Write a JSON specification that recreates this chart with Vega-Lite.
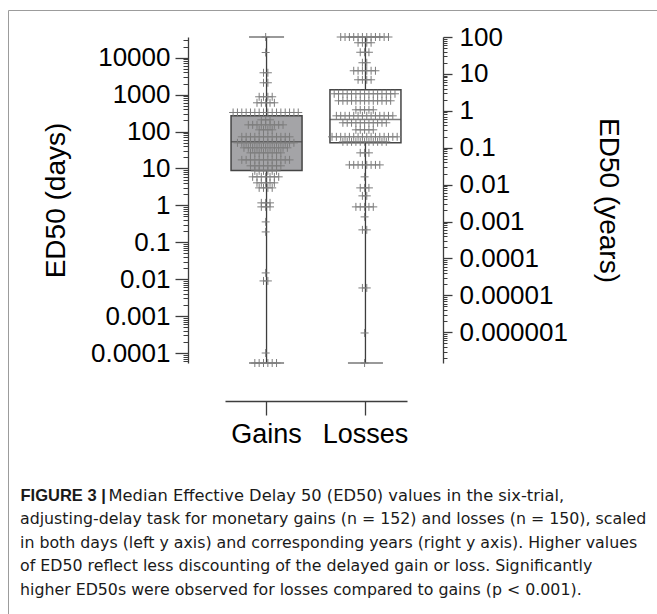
{
  "$schema": "https://vega.github.io/schema/vega-lite/v6.json",
  "usermeta": {"embedOptions": {"actions": false}},
  "width": 649,
  "height": 604,
  "autosize": "none",
  "padding": {"left": 8, "top": 10, "right": 0, "bottom": 0},
  "background": "white",
  "config": {
    "view": {"stroke": "#9c9c9c", "strokeWidth": 1},
    "font": "Liberation Sans",
    "axis": {"labelFont": "Liberation Sans", "titleFont": "Liberation Sans", "labelColor": "#111111", "titleColor": "#111111", "titleFontWeight": "normal", "domainColor": "#3d3d3d", "tickColor": "#3d3d3d", "grid": false, "labelOverlap": false}
  },
  "title": {
    "text": [
      "adjusting-delay task for monetary gains (n = 152) and losses (n = 150), scaled",
      "in both days (left y axis) and corresponding years (right y axis). Higher values",
      "of ED50 reflect less discounting of the delayed gain or loss. Significantly",
      "higher ED50s were observed for losses compared to gains (p < 0.001)."
    ],
    "orient": "bottom", "anchor": "start", "frame": "group", "offset": 0,
    "font": "DejaVu Sans", "fontSize": 15.8, "fontWeight": "normal", "color": "#1a1a1a", "lineHeight": 23.7,
    "dx": 12, "dy": -102
  },
  "datasets": {
    "summary": [
      {"group": "Gains", "min": 0.0000536, "q1": 8.78, "median": 52.7, "q3": 267.4, "max": 36525},
      {"group": "Losses", "min": 0.0000536, "q1": 49.5, "median": 212.2, "q3": 1356, "max": 36525}
    ],
    "yearTicks": [
      {"years": 0.000001}, {"years": 0.00001}, {"years": 0.0001}, {"years": 0.001}, {"years": 0.01},
      {"years": 0.1}, {"years": 1}, {"years": 10}, {"years": 100}
    ],
    "points": [
      {"group": "Gains", "days": 36525},
      {"group": "Gains", "days": 13900},
      {"group": "Gains", "days": 3920}, {"group": "Gains", "days": 3920},
      {"group": "Gains", "days": 2100}, {"group": "Gains", "days": 2100},
      {"group": "Gains", "days": 876}, {"group": "Gains", "days": 876}, {"group": "Gains", "days": 876}, {"group": "Gains", "days": 876},
      {"group": "Gains", "days": 602}, {"group": "Gains", "days": 602}, {"group": "Gains", "days": 602}, {"group": "Gains", "days": 602}, {"group": "Gains", "days": 602},
      {"group": "Gains", "days": 329}, {"group": "Gains", "days": 329}, {"group": "Gains", "days": 329}, {"group": "Gains", "days": 329},
      {"group": "Gains", "days": 329}, {"group": "Gains", "days": 329}, {"group": "Gains", "days": 329}, {"group": "Gains", "days": 329},
      {"group": "Gains", "days": 329}, {"group": "Gains", "days": 329}, {"group": "Gains", "days": 329}, {"group": "Gains", "days": 329},
      {"group": "Gains", "days": 329}, {"group": "Gains", "days": 329}, {"group": "Gains", "days": 329}, {"group": "Gains", "days": 329},
      {"group": "Gains", "days": 208}, {"group": "Gains", "days": 208}, {"group": "Gains", "days": 208},
      {"group": "Gains", "days": 152}, {"group": "Gains", "days": 152}, {"group": "Gains", "days": 152}, {"group": "Gains", "days": 152}, {"group": "Gains", "days": 152},
      {"group": "Gains", "days": 152}, {"group": "Gains", "days": 152}, {"group": "Gains", "days": 152}, {"group": "Gains", "days": 152},
      {"group": "Gains", "days": 111.5}, {"group": "Gains", "days": 111.5}, {"group": "Gains", "days": 111.5}, {"group": "Gains", "days": 111.5},
      {"group": "Gains", "days": 72}, {"group": "Gains", "days": 72}, {"group": "Gains", "days": 72}, {"group": "Gains", "days": 72},
      {"group": "Gains", "days": 72}, {"group": "Gains", "days": 72}, {"group": "Gains", "days": 72}, {"group": "Gains", "days": 72},
      {"group": "Gains", "days": 72}, {"group": "Gains", "days": 72}, {"group": "Gains", "days": 72}, {"group": "Gains", "days": 72},
      {"group": "Gains", "days": 49.5}, {"group": "Gains", "days": 49.5}, {"group": "Gains", "days": 49.5}, {"group": "Gains", "days": 49.5},
      {"group": "Gains", "days": 49.5}, {"group": "Gains", "days": 49.5}, {"group": "Gains", "days": 49.5}, {"group": "Gains", "days": 49.5},
      {"group": "Gains", "days": 49.5}, {"group": "Gains", "days": 49.5}, {"group": "Gains", "days": 49.5}, {"group": "Gains", "days": 49.5},
      {"group": "Gains", "days": 49.5}, {"group": "Gains", "days": 49.5},
      {"group": "Gains", "days": 36.3}, {"group": "Gains", "days": 36.3}, {"group": "Gains", "days": 36.3}, {"group": "Gains", "days": 36.3},
      {"group": "Gains", "days": 36.3}, {"group": "Gains", "days": 36.3}, {"group": "Gains", "days": 36.3}, {"group": "Gains", "days": 36.3},
      {"group": "Gains", "days": 36.3}, {"group": "Gains", "days": 36.3}, {"group": "Gains", "days": 36.3},
      {"group": "Gains", "days": 26.5}, {"group": "Gains", "days": 26.5}, {"group": "Gains", "days": 26.5}, {"group": "Gains", "days": 26.5},
      {"group": "Gains", "days": 26.5}, {"group": "Gains", "days": 26.5}, {"group": "Gains", "days": 26.5}, {"group": "Gains", "days": 26.5},
      {"group": "Gains", "days": 17.1}, {"group": "Gains", "days": 17.1}, {"group": "Gains", "days": 17.1}, {"group": "Gains", "days": 17.1},
      {"group": "Gains", "days": 17.1}, {"group": "Gains", "days": 17.1}, {"group": "Gains", "days": 17.1}, {"group": "Gains", "days": 17.1},
      {"group": "Gains", "days": 17.1}, {"group": "Gains", "days": 17.1}, {"group": "Gains", "days": 17.1}, {"group": "Gains", "days": 17.1},
      {"group": "Gains", "days": 11.8}, {"group": "Gains", "days": 11.8}, {"group": "Gains", "days": 11.8}, {"group": "Gains", "days": 11.8},
      {"group": "Gains", "days": 11.8}, {"group": "Gains", "days": 11.8}, {"group": "Gains", "days": 11.8}, {"group": "Gains", "days": 11.8},
      {"group": "Gains", "days": 8.62}, {"group": "Gains", "days": 8.62}, {"group": "Gains", "days": 8.62}, {"group": "Gains", "days": 8.62},
      {"group": "Gains", "days": 8.62}, {"group": "Gains", "days": 8.62},
      {"group": "Gains", "days": 5.93}, {"group": "Gains", "days": 5.93}, {"group": "Gains", "days": 5.93}, {"group": "Gains", "days": 5.93},
      {"group": "Gains", "days": 5.93}, {"group": "Gains", "days": 5.93}, {"group": "Gains", "days": 5.93},
      {"group": "Gains", "days": 4.08}, {"group": "Gains", "days": 4.08}, {"group": "Gains", "days": 4.08}, {"group": "Gains", "days": 4.08}, {"group": "Gains", "days": 4.08},
      {"group": "Gains", "days": 2.98}, {"group": "Gains", "days": 2.98}, {"group": "Gains", "days": 2.98}, {"group": "Gains", "days": 2.98},
      {"group": "Gains", "days": 1.17}, {"group": "Gains", "days": 1.17}, {"group": "Gains", "days": 1.17},
      {"group": "Gains", "days": 0.911}, {"group": "Gains", "days": 0.911}, {"group": "Gains", "days": 0.911},
      {"group": "Gains", "days": 0.357},
      {"group": "Gains", "days": 0.191},
      {"group": "Gains", "days": 0.0148},
      {"group": "Gains", "days": 0.00897}, {"group": "Gains", "days": 0.00897},
      {"group": "Gains", "days": 0.0001},
      {"group": "Gains", "days": 0.0000536}, {"group": "Gains", "days": 0.0000536}, {"group": "Gains", "days": 0.0000536},
      {"group": "Gains", "days": 0.0000536}, {"group": "Gains", "days": 0.0000536}, {"group": "Gains", "days": 0.0000536},
      {"group": "Losses", "days": 36525}, {"group": "Losses", "days": 36525}, {"group": "Losses", "days": 36525}, {"group": "Losses", "days": 36525},
      {"group": "Losses", "days": 36525}, {"group": "Losses", "days": 36525}, {"group": "Losses", "days": 36525}, {"group": "Losses", "days": 36525},
      {"group": "Losses", "days": 36525}, {"group": "Losses", "days": 36525}, {"group": "Losses", "days": 36525}, {"group": "Losses", "days": 36525},
      {"group": "Losses", "days": 25500}, {"group": "Losses", "days": 25500}, {"group": "Losses", "days": 25500}, {"group": "Losses", "days": 25500},
      {"group": "Losses", "days": 14100}, {"group": "Losses", "days": 14100}, {"group": "Losses", "days": 14100},
      {"group": "Losses", "days": 7320}, {"group": "Losses", "days": 7320},
      {"group": "Losses", "days": 4440}, {"group": "Losses", "days": 4440}, {"group": "Losses", "days": 4440}, {"group": "Losses", "days": 4440},
      {"group": "Losses", "days": 4440}, {"group": "Losses", "days": 4440},
      {"group": "Losses", "days": 2530}, {"group": "Losses", "days": 2530}, {"group": "Losses", "days": 2530}, {"group": "Losses", "days": 2530},
      {"group": "Losses", "days": 1056}, {"group": "Losses", "days": 1056}, {"group": "Losses", "days": 1056}, {"group": "Losses", "days": 1056},
      {"group": "Losses", "days": 1056}, {"group": "Losses", "days": 1056}, {"group": "Losses", "days": 1056}, {"group": "Losses", "days": 1056},
      {"group": "Losses", "days": 1056}, {"group": "Losses", "days": 1056}, {"group": "Losses", "days": 1056}, {"group": "Losses", "days": 1056},
      {"group": "Losses", "days": 1056}, {"group": "Losses", "days": 1056}, {"group": "Losses", "days": 1056},
      {"group": "Losses", "days": 682}, {"group": "Losses", "days": 682}, {"group": "Losses", "days": 682}, {"group": "Losses", "days": 682},
      {"group": "Losses", "days": 682}, {"group": "Losses", "days": 682}, {"group": "Losses", "days": 682}, {"group": "Losses", "days": 682},
      {"group": "Losses", "days": 682}, {"group": "Losses", "days": 682}, {"group": "Losses", "days": 682}, {"group": "Losses", "days": 682},
      {"group": "Losses", "days": 682},
      {"group": "Losses", "days": 389}, {"group": "Losses", "days": 389}, {"group": "Losses", "days": 389}, {"group": "Losses", "days": 389}, {"group": "Losses", "days": 389},
      {"group": "Losses", "days": 267}, {"group": "Losses", "days": 267}, {"group": "Losses", "days": 267}, {"group": "Losses", "days": 267},
      {"group": "Losses", "days": 267}, {"group": "Losses", "days": 267}, {"group": "Losses", "days": 267}, {"group": "Losses", "days": 267},
      {"group": "Losses", "days": 267}, {"group": "Losses", "days": 267}, {"group": "Losses", "days": 267}, {"group": "Losses", "days": 267},
      {"group": "Losses", "days": 267}, {"group": "Losses", "days": 267},
      {"group": "Losses", "days": 173}, {"group": "Losses", "days": 173}, {"group": "Losses", "days": 173}, {"group": "Losses", "days": 173},
      {"group": "Losses", "days": 173}, {"group": "Losses", "days": 173}, {"group": "Losses", "days": 173}, {"group": "Losses", "days": 173},
      {"group": "Losses", "days": 173}, {"group": "Losses", "days": 173}, {"group": "Losses", "days": 173},
      {"group": "Losses", "days": 111.5}, {"group": "Losses", "days": 111.5}, {"group": "Losses", "days": 111.5}, {"group": "Losses", "days": 111.5}, {"group": "Losses", "days": 111.5},
      {"group": "Losses", "days": 72}, {"group": "Losses", "days": 72}, {"group": "Losses", "days": 72}, {"group": "Losses", "days": 72},
      {"group": "Losses", "days": 72}, {"group": "Losses", "days": 72}, {"group": "Losses", "days": 72}, {"group": "Losses", "days": 72},
      {"group": "Losses", "days": 72}, {"group": "Losses", "days": 72}, {"group": "Losses", "days": 72}, {"group": "Losses", "days": 72},
      {"group": "Losses", "days": 72}, {"group": "Losses", "days": 72}, {"group": "Losses", "days": 72}, {"group": "Losses", "days": 72},
      {"group": "Losses", "days": 52.7}, {"group": "Losses", "days": 52.7}, {"group": "Losses", "days": 52.7}, {"group": "Losses", "days": 52.7},
      {"group": "Losses", "days": 52.7}, {"group": "Losses", "days": 52.7}, {"group": "Losses", "days": 52.7}, {"group": "Losses", "days": 52.7},
      {"group": "Losses", "days": 52.7}, {"group": "Losses", "days": 52.7}, {"group": "Losses", "days": 52.7},
      {"group": "Losses", "days": 26.5}, {"group": "Losses", "days": 26.5}, {"group": "Losses", "days": 26.5},
      {"group": "Losses", "days": 12.5}, {"group": "Losses", "days": 12.5}, {"group": "Losses", "days": 12.5}, {"group": "Losses", "days": 12.5},
      {"group": "Losses", "days": 12.5}, {"group": "Losses", "days": 12.5}, {"group": "Losses", "days": 12.5}, {"group": "Losses", "days": 12.5},
      {"group": "Losses", "days": 5.93},
      {"group": "Losses", "days": 2.98}, {"group": "Losses", "days": 2.98}, {"group": "Losses", "days": 2.98},
      {"group": "Losses", "days": 1.81}, {"group": "Losses", "days": 1.81},
      {"group": "Losses", "days": 0.911}, {"group": "Losses", "days": 0.911}, {"group": "Losses", "days": 0.911}, {"group": "Losses", "days": 0.911}, {"group": "Losses", "days": 0.911},
      {"group": "Losses", "days": 0.488},
      {"group": "Losses", "days": 0.217}, {"group": "Losses", "days": 0.217},
      {"group": "Losses", "days": 0.00579}, {"group": "Losses", "days": 0.00579},
      {"group": "Losses", "days": 0.000349},
      {"group": "Losses", "days": 0.0000536}
    ]
  },
  "layer": [
    {
      "layer": [
        {
          "data": {"name": "summary"},
          "mark": {"type": "rule", "stroke": "#3d3d3d", "strokeWidth": 1.3},
          "encoding": {
            "x": {"field": "group", "type": "nominal",
              "scale": {"type": "band", "range": [217, 399], "paddingInner": 0.28, "paddingOuter": 0.06},
              "axis": {"orient": "bottom", "offset": -213, "title": null, "labelAngle": 0, "labelFontSize": 27, "tickSize": 14, "tickWidth": 1.3, "domainWidth": 1.3, "labelPadding": 6, "labelColor": "#000000"}},
            "y": {"field": "min", "type": "quantitative",
              "scale": {"type": "log", "domain": [0.0000536, 36525], "range": [353, 27], "nice": false},
              "axis": {"orient": "left", "offset": -180, "values": [0.0001, 0.001, 0.01, 0.1, 1, 10, 100, 1000, 10000], "format": "~f",
                "tickSize": 13, "tickWidth": 1.3, "domainWidth": 1.3, "labelFontSize": 26, "labelPadding": 5, "labelColor": "#000000",
                "title": "ED50 (days)", "titleFontSize": 28, "titlePadding": 20, "titleColor": "#000000"}},
            "y2": {"field": "max"}
          }
        },
        {
          "data": {"name": "summary"},
          "mark": {"type": "bar", "stroke": "#454545", "strokeWidth": 1.5, "size": 71},
          "encoding": {
            "x": {"field": "group", "type": "nominal", "axis": null},
            "y": {"field": "q1", "type": "quantitative", "axis": null},
            "y2": {"field": "q3"},
            "color": {"field": "group", "type": "nominal", "scale": {"domain": ["Gains", "Losses"], "range": ["#a4a4a7", "#ffffff"]}, "legend": null}
          }
        },
        {
          "data": {"name": "summary"},
          "mark": {"type": "tick", "color": "#454545", "size": 71, "thickness": 1.5},
          "encoding": {
            "x": {"field": "group", "type": "nominal", "axis": null},
            "y": {"field": "median", "type": "quantitative", "axis": null}
          }
        },
        {
          "data": {"name": "summary"},
          "mark": {"type": "tick", "color": "#3d3d3d", "size": 35, "thickness": 1.3},
          "encoding": {
            "x": {"field": "group", "type": "nominal", "axis": null},
            "y": {"field": "min", "type": "quantitative", "axis": null}
          }
        },
        {
          "data": {"name": "summary"},
          "mark": {"type": "tick", "color": "#3d3d3d", "size": 35, "thickness": 1.3},
          "encoding": {
            "x": {"field": "group", "type": "nominal", "axis": null},
            "y": {"field": "max", "type": "quantitative", "axis": null}
          }
        },
        {
          "data": {"name": "points"},
          "transform": [
            {"window": [{"op": "count", "as": "one"}], "frame": [0, 0]},
            {"stack": "one", "groupby": ["group", "days"], "offset": "center", "as": ["s0", "s1"]}
          ],
          "mark": {"type": "point", "shape": "M-1,0L1,0M0,-1L0,1", "filled": false, "color": "#7c7c7c", "strokeWidth": 1, "size": 64, "opacity": 1},
          "encoding": {
            "x": {"field": "group", "type": "nominal", "axis": null},
            "xOffset": {"field": "s0", "type": "quantitative", "scale": {"domain": [-0.5, 15.9]}},
            "y": {"field": "days", "type": "quantitative", "axis": null}
          }
        },
        {
          "data": {"name": "summary"},
          "mark": {"type": "point", "opacity": 0},
          "encoding": {
            "y": {"field": "max", "type": "quantitative",
              "axis": {"orient": "left", "offset": -180, "values": [0.00006, 0.00007, 0.00008, 0.00009, 0.0002, 0.0003, 0.0004, 0.0005, 0.0006, 0.0007, 0.0008, 0.0009, 0.002, 0.003, 0.004, 0.005, 0.006, 0.007, 0.008, 0.009, 0.02, 0.03, 0.04, 0.05, 0.06, 0.07, 0.08, 0.09, 0.2, 0.3, 0.4, 0.5, 0.6, 0.7, 0.8, 0.9, 2, 3, 4, 5, 6, 7, 8, 9, 20, 30, 40, 50, 60, 70, 80, 90, 200, 300, 400, 500, 600, 700, 800, 900, 2000, 3000, 4000, 5000, 6000, 7000, 8000, 9000, 20000, 30000],
                "labels": false, "domain": false, "tickSize": 5, "tickWidth": 1,
                "title": "FIGURE 3 |", "titleFont": "Liberation Sans", "titleFontWeight": "bold", "titleFontSize": 16.5, "titleColor": "#1a1a1a",
                "titleAngle": 0, "titleAlign": "left", "titleBaseline": "alphabetic", "titleX": -168, "titleY": 490.5}}
          }
        }
      ],
      "resolve": {"axis": {"y": "independent", "x": "independent"}}
    },
    {
      "data": {"name": "yearTicks"},
      "layer": [
        {
          "mark": {"type": "point", "opacity": 0},
          "encoding": {
            "y": {"field": "years", "type": "quantitative",
              "scale": {"type": "log", "domain": [1.4675e-7, 100], "range": [353, 27], "nice": false},
              "axis": {"orient": "right", "offset": -214, "values": [0.000001, 0.00001, 0.0001, 0.001, 0.01, 0.1, 1, 10, 100], "format": "~f",
                "tickSize": 9, "tickWidth": 1.3, "domainWidth": 1.3, "labelFontSize": 26, "labelPadding": 7, "labelColor": "#000000",
                "title": "ED50 (years)", "titleFontSize": 28, "titlePadding": 26, "titleAngle": 90, "titleColor": "#000000"}}
          }
        },
        {
          "mark": {"type": "point", "opacity": 0},
          "encoding": {
            "y": {"field": "years", "type": "quantitative",
              "axis": {"orient": "right", "offset": -214, "values": [2e-7, 3e-7, 4e-7, 5e-7, 6e-7, 7e-7, 8e-7, 9e-7, 2e-6, 3e-6, 4e-6, 5e-6, 6e-6, 7e-6, 8e-6, 9e-6, 2e-5, 3e-5, 4e-5, 5e-5, 6e-5, 7e-5, 8e-5, 9e-5, 0.0002, 0.0003, 0.0004, 0.0005, 0.0006, 0.0007, 0.0008, 0.0009, 0.002, 0.003, 0.004, 0.005, 0.006, 0.007, 0.008, 0.009, 0.02, 0.03, 0.04, 0.05, 0.06, 0.07, 0.08, 0.09, 0.2, 0.3, 0.4, 0.5, 0.6, 0.7, 0.8, 0.9, 2, 3, 4, 5, 6, 7, 8, 9, 20, 30, 40, 50, 60, 70, 80, 90],
                "labels": false, "domain": false, "tickSize": 4, "tickWidth": 1,
                "title": "Median Effective Delay 50 (ED50) values in the six-trial,", "titleFont": "DejaVu Sans", "titleFontWeight": "normal", "titleFontSize": 16.3, "titleColor": "#1a1a1a",
                "titleAngle": 0, "titleAlign": "left", "titleBaseline": "alphabetic", "titleX": -335, "titleY": 490.5}}
          }
        }
      ],
      "resolve": {"axis": {"y": "independent"}}
    }
  ],
  "resolve": {"scale": {"y": "independent"}, "axis": {"y": "independent"}}
}
